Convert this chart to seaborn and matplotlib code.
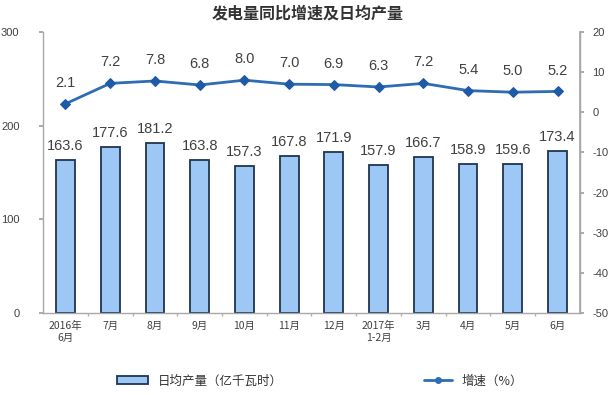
import matplotlib
matplotlib.use("Agg")
import matplotlib.pyplot as plt
import seaborn as sns
import pandas as pd
import numpy as np
from matplotlib.lines import Line2D
from matplotlib.patches import Patch
from matplotlib.ticker import FixedLocator

categories = ["2016年\n6月", "7月", "8月", "9月", "10月", "11月", "12月",
              "2017年\n1-2月", "3月", "4月", "5月", "6月"]
daily_output = [163.6, 177.6, 181.2, 163.8, 157.3, 167.8, 171.9, 157.9, 166.7, 158.9, 159.6, 173.4]
growth = [2.1, 7.2, 7.8, 6.8, 8.0, 7.0, 6.9, 6.3, 7.2, 5.4, 5.0, 5.2]
left_ticks = [0, 100, 200, 300]
right_ticks = [-50, -40, -30, -20, -10, 0, 10, 20]

sns.set_theme(style="white")
plt.rcParams['font.family'] = ['Noto Sans CJK SC', 'DejaVu Sans']

df = pd.DataFrame({"cat": categories, "out": daily_output, "g": growth})

fig = plt.figure(figsize=(6.15, 3.95), dpi=100)
ax = fig.add_axes([0.070, 0.2076, 0.873, 0.7114])

sns.barplot(data=df, x="cat", y="out", ax=ax, color="#9DC8F5", width=0.42,
            edgecolor="#1F3550", linewidth=1.3, saturation=1)
ax.set_ylim(0, 300)
ax.set_xlim(-0.5, 11.5)
ax.set_yticks(left_ticks)
ax.set_yticklabels([str(t) for t in left_ticks], fontsize=8, color="#404040",
                   family=["Liberation Sans", "DejaVu Sans"])
ax.set_xlabel("")
ax.set_ylabel("")
ax.tick_params(axis="x", which="major", length=0, labelsize=7.5, labelcolor="#404040", pad=6)
ax.xaxis.set_minor_locator(FixedLocator([i + 0.5 for i in range(11)]))
ax.tick_params(axis="x", which="minor", bottom=True, length=2, color="#B0B0B0")
ax.tick_params(axis="y", left=True, length=3, color="#A0A0A0", pad=14)
for s in ["top"]:
    ax.spines[s].set_visible(False)
for s in ["left", "bottom", "right"]:
    ax.spines[s].set_color("#A8A8A8")
    ax.spines[s].set_linewidth(1.0)

for i, v in enumerate(daily_output):
    ax.annotate(f"{v:.1f}", (i, v), xytext=(0, 5), textcoords="offset points",
                ha="center", va="bottom", fontsize=10.5, color="#404040",
                family=["Liberation Sans", "DejaVu Sans"])

ax2 = ax.twinx()
sns.lineplot(data=df, x="cat", y="g", ax=ax2, color="#2E6DB4", linewidth=2,
             marker="D", markersize=5, markerfacecolor="#1F5AA6",
             markeredgecolor="#1F5AA6", sort=False)
ax2.set_ylim(-50, 20)
ax2.set_yticks(right_ticks)
ax2.set_yticklabels([str(t) for t in right_ticks], fontsize=8, color="#404040",
                    family=["Liberation Sans", "DejaVu Sans"])
ax2.set_ylabel("")
ax2.tick_params(axis="y", right=True, length=3, color="#A0A0A0", pad=6)
for s in ["top", "left", "bottom"]:
    ax2.spines[s].set_visible(False)
ax2.spines["right"].set_color("#A8A8A8")
for i, v in enumerate(growth):
    ax2.annotate(f"{v:.1f}", (i, v), xytext=(0, 10), textcoords="offset points",
                 ha="center", va="bottom", fontsize=10.5, color="#404040",
                 family=["Liberation Sans", "DejaVu Sans"])
ax.set_xlim(-0.5, 11.5)

fig.text(0.5, 0.965, "发电量同比增速及日均产量", ha="center", va="center",
         fontsize=11.5, fontweight="bold", color="#333333")

handles = [Patch(facecolor="#9DC8F5", edgecolor="#1F3550", linewidth=1.3)]
fig.legend(handles, ["日均产量（亿千瓦时）"], loc="center", bbox_to_anchor=(0.325, 0.035),
           frameon=False, fontsize=9, handlelength=2.5, handleheight=0.6, labelcolor="#333333")
lh = [Line2D([], [], color="#2E6DB4", linewidth=2, marker="o", markersize=4)]
fig.legend(lh, ["增速（%）"], loc="center", bbox_to_anchor=(0.77, 0.035),
           frameon=False, fontsize=9, handlelength=2.2, labelcolor="#333333")

fig.savefig("out.png", dpi=100)
